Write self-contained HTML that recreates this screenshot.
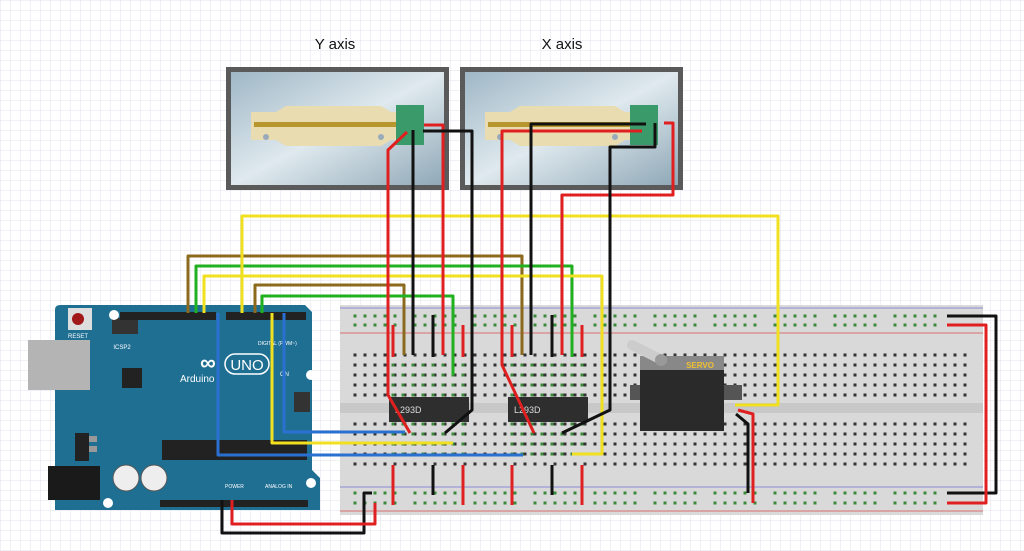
<!DOCTYPE html>
<html><head><meta charset="utf-8"><style>
html,body{margin:0;padding:0;background:#fff}
svg{display:block}
text{font-family:"Liberation Sans",sans-serif}
</style></head><body>
<svg id="s" width="1024" height="551" viewBox="0 0 1024 551" xmlns="http://www.w3.org/2000/svg">
<defs>
<pattern id="g" width="10" height="10" patternUnits="userSpaceOnUse"><path d="M10 0H0V10" fill="none" stroke="#e2e2ec" stroke-width="1"/></pattern>
<linearGradient id="glass" x1="0" y1="0" x2="1" y2="1"><stop offset="0" stop-color="#9fb7c6"/><stop offset="0.5" stop-color="#dfe9ee"/><stop offset="1" stop-color="#8fa8b7"/></linearGradient>
</defs>
<rect width="1024" height="551" fill="url(#g)"/>
<text x="335" y="49" font-size="15" text-anchor="middle" fill="#111">Y axis</text>
<text x="562" y="49" font-size="15" text-anchor="middle" fill="#111">X axis</text>
<g id="motors"></g>
<g>
<rect x="340" y="305" width="643" height="210" fill="#d9d9d9"/>
<line x1="340" y1="308" x2="983" y2="308" stroke="#8b8bd8" stroke-width="1"/>
<line x1="340" y1="333" x2="983" y2="333" stroke="#d87070" stroke-width="1"/>
<line x1="340" y1="487" x2="983" y2="487" stroke="#8b8bd8" stroke-width="1"/>
<line x1="340" y1="511" x2="983" y2="511" stroke="#d87070" stroke-width="1"/>
<rect x="340" y="403" width="643" height="10" fill="#c8c8c8"/>
</g>
<g id="holes"></g>
<g id="arduino">
<path d="M55 310 Q55 305 60 305 L305 305 L312 312 L312 470 L320 478 L320 510 L55 510 Z" fill="#1f6f93"/>
<rect x="28" y="340" width="62" height="50" fill="#b4b4b4"/>
<rect x="48" y="466" width="52" height="34" fill="#1a1a1a"/>
<rect x="68" y="308" width="24" height="22" fill="#ddd"/><circle cx="78" cy="319" r="6" fill="#a01818"/>
<text x="78" y="338" font-size="6" fill="#fff" text-anchor="middle">RESET</text>
<rect x="112" y="318" width="26" height="16" fill="#333"/><text x="122" y="349" font-size="6" fill="#fff" text-anchor="middle">ICSP2</text>
<rect x="120" y="312" width="96" height="8" fill="#222"/><rect x="226" y="312" width="80" height="8" fill="#222"/>
<rect x="122" y="368" width="20" height="20" fill="#222"/>
<rect x="162" y="440" width="145" height="20" fill="#222"/>
<rect x="75" y="433" width="14" height="28" fill="#222"/><rect x="89" y="436" width="8" height="6" fill="#999"/><rect x="89" y="446" width="8" height="6" fill="#999"/>
<circle cx="126" cy="478" r="13" fill="#eee" stroke="#555"/><circle cx="154" cy="478" r="13" fill="#eee" stroke="#555"/>
<rect x="160" y="500" width="148" height="7" fill="#222"/>
<rect x="294" y="392" width="16" height="20" fill="#333"/>
<text x="200" y="370" font-size="22" fill="#fff" font-weight="bold">∞</text>
<rect x="225" y="354" width="44" height="20" rx="10" fill="none" stroke="#fff" stroke-width="1.5"/>
<text x="247" y="370" font-size="15" fill="#fff" text-anchor="middle">UNO</text>
<text x="180" y="382" font-size="10" fill="#fff">Arduino</text>
<text x="258" y="345" font-size="5" fill="#fff">DIGITAL (PWM~)</text>
<text x="280" y="376" font-size="6" fill="#fff">ON</text>
<text x="265" y="488" font-size="5" fill="#fff">ANALOG IN</text><text x="225" y="488" font-size="5" fill="#fff">POWER</text>
<circle cx="114" cy="315" r="5" fill="#fff"/><circle cx="311" cy="375" r="5" fill="#fff"/><circle cx="108" cy="503" r="5" fill="#fff"/><circle cx="311" cy="483" r="5" fill="#fff"/>
</g>
<g><rect x="389" y="397" width="80" height="25" fill="#2e2e2e"/><text x="395" y="413" font-size="9" fill="#ddd">L293D</text></g>
<g><rect x="508" y="397" width="80" height="25" fill="#2e2e2e"/><text x="514" y="413" font-size="9" fill="#ddd">L293D</text></g>
<g>
<rect x="630" y="385" width="112" height="15" fill="#555"/>
<rect x="640" y="356" width="84" height="75" fill="#2a2a2a"/>
<rect x="640" y="356" width="84" height="14" fill="#888"/>
<text x="700" y="368" font-size="8" fill="#f0c030" font-weight="bold" text-anchor="middle">SERVO</text>
<path d="M632 345 L662 360" stroke="#ccc" stroke-width="10" stroke-linecap="round"/><circle cx="661" cy="360" r="6" fill="#999"/>
</g>
<g id="wires" fill="none" stroke-width="3" stroke-linejoin="round"></g>
</svg>
<script>
const NS="http://www.w3.org/2000/svg";
function mk(t,a,p){const e=document.createElementNS(NS,t);for(const k in a)e.setAttribute(k,a[k]);p.appendChild(e);return e;}
const mg=document.getElementById('motors');
[226,460].forEach((x,i)=>{
 const g=mk('g',{},mg);
 
 
 mk('rect',{x:x,y:67,width:223,height:123,fill:'#5a5a5a'},g);
 mk('rect',{x:x+5,y:72,width:213,height:113,fill:'url(#glass)'},g);
 mk('path',{d:`M${x+25} 112 h25 l10 -6 h95 l10 6 h30 v28 h-30 l-10 6 h-95 l-10 -6 h-25 z`,fill:'#e8dcb0'},g);
 mk('rect',{x:x+28,y:122,width:142,height:5,fill:'#b8962e'},g);
 mk('rect',{x:x+170,y:105,width:28,height:40,fill:'#3a9a6a'},g);
 mk('circle',{cx:x+40,cy:137,r:3,fill:'#9ab'},g);
 mk('circle',{cx:x+155,cy:137,r:3,fill:'#9ab'},g);
});
const hg=document.getElementById('holes');
function dot(x,y,c){mk('rect',{x:x-1.5,y:y-1.5,width:3,height:3,fill:c},hg);}
const mainRows=[355,365,375,385,395,424,434,444,454,464];
for(let x=355;x<=968;x+=10)mainRows.forEach(r=>dot(x,r,'#333'));
[316,325,493,503].forEach(r=>{for(let x=355;x<=950;x+=10){const k=Math.round((x-355)/10)%6;if(k<5)dot(x,r,'#3a8a3a');}});
for(let x=393;x<=463;x+=10)[365,375,385,395,424,434,444,454].forEach(r=>dot(x,r,'#3a8a3a'));
for(let x=512;x<=582;x+=10)[365,375,385,395,424,434,444,454].forEach(r=>dot(x,r,'#3a8a3a'));
const wg=document.getElementById('wires');
const W=[
['brown','#8b6a1e','M188 313V256H522V355'],
['brown','#8b6a1e','M255 313V285H404V355'],
['green','#20b020','M196 313V266H572V357'],
['green','#20b020','M262 313V296H453V375'],
['yellow','#f0e020','M204 313V276H602V454H572'],
['yellow','#f0e020','M272 313V443H453'],
['yellow','#f0e020','M242 313V216H778V405H735'],
['blue','#2a70d0','M284 313V432H405'],
['blue','#2a70d0','M218 313V455H523'],
['red','#e02020','M407 132L388 150V395L410 433'],
['red','#e02020','M424 125H443V355'],
['black','#111','M413 130V355'],
['black','#111','M423 131H472V410L445 433'],
['red','#e02020','M642 131H502V365L534 433'],
['black','#111','M646 124H531V355'],
['red','#e02020','M664 123H673V195H562V355'],
['black','#111','M655 123V147H610V410L562 433'],
['red','#e02020','M393 325V357'],['black','#111','M433 315V357'],['red','#e02020','M463 325V357'],
['red','#e02020','M512 325V357'],['black','#111','M552 315V357'],['red','#e02020','M582 325V357'],
['red','#e02020','M393 465V505'],['black','#111','M433 465V495'],['red','#e02020','M463 465V505'],
['red','#e02020','M512 465V505'],['black','#111','M552 465V495'],['red','#e02020','M582 465V505'],
['black','#111','M222 500V533H364V493H372'],
['red','#e02020','M232 500V524H375V503'],
['black','#111','M736 414L748 424V493'],
['red','#e02020','M738 410L753 414V503'],
['black','#111','M947 316H996V493H947'],
['red','#e02020','M947 325H986V503H947']
];
W.forEach(w=>{const p=mk('path',{d:w[2],stroke:w[1]},wg);
 
 });
</script>
</body></html>
